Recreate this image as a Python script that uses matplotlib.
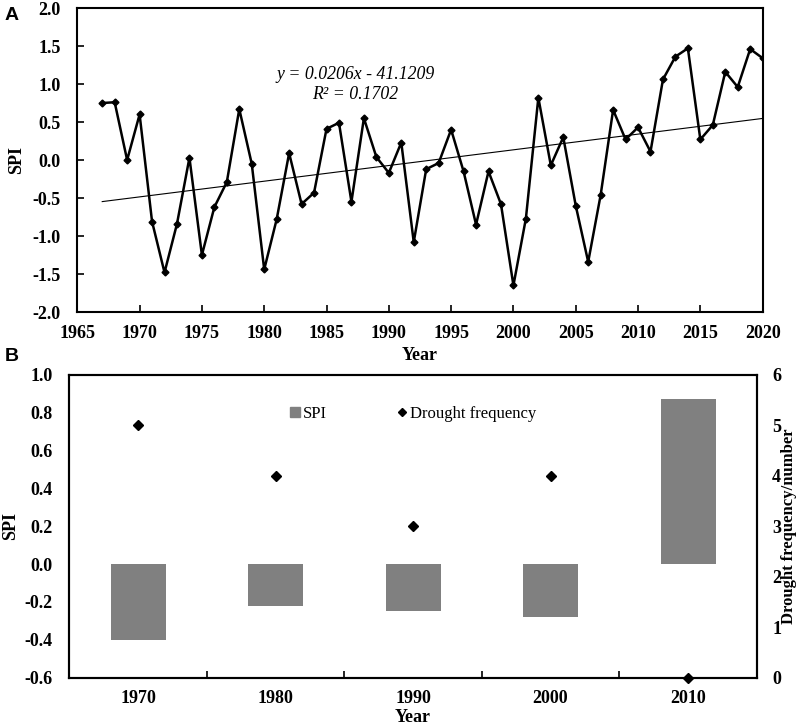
import numpy as np
import matplotlib
matplotlib.use("Agg")
import matplotlib.pyplot as plt
from matplotlib.lines import Line2D

plt.rcParams['font.family'] = ['Liberation Serif', 'DejaVu Serif']

# ---- Panel A data ----
years = list(range(1967, 2021))
spi = [0.75, 0.76, 0.00, 0.60, -0.81, -1.48, -0.84, 0.03, -1.25, -0.62,
       -0.29, 0.67, -0.05, -1.44, -0.78, 0.09, -0.58, -0.43, 0.41, 0.49,
       -0.55, 0.55, 0.04, -0.17, 0.23, -1.08, -0.12, -0.04, 0.40, -0.15,
       -0.85, -0.15, -0.58, -1.65, -0.77, 0.82, -0.07, 0.30, -0.60, -1.34,
       -0.46, 0.66, 0.27, 0.43, 0.11, 1.06, 1.36, 1.47, 0.27, 0.46,
       1.16, 0.96, 1.46, 1.34]
eq_text = "y = 0.0206x - 41.1209"
r2_text = "R² = 0.1702"

# ---- Panel B data ----
decades = ["1970", "1980", "1990", "2000", "2010"]
decade_spi = [-0.40, -0.22, -0.25, -0.28, 0.87]
drought_freq = [5, 4, 3, 4, 0]

FS = 13

fig = plt.figure(figsize=(7.96, 7.28), dpi=100)

# ---------------- Panel A ----------------
ax1 = fig.add_axes([0.0971, 0.5714, 0.861, 0.4176])
ax1.plot(years, spi, color='black', lw=1.8, marker='D', markersize=3.5, zorder=3)
coef = np.polyfit(years, spi, 1)
yrs = np.array([years[0], years[-1]])
ax1.plot(yrs, np.polyval(coef, yrs), color='black', lw=0.8, zorder=2)
ax1.set_xlim(1965, 2020)
ax1.set_ylim(-2.0, 2.0)
ax1.set_xticks(range(1965, 2021, 5))
ax1.set_yticks(np.arange(-2.0, 2.01, 0.5))
ax1.set_yticklabels([f"{v:.1f}" for v in np.arange(-2.0, 2.01, 0.5)])
ax1.tick_params(axis='both', direction='in', length=5, width=1.2, labelsize=FS)
ax1.tick_params(axis='y', pad=12)
ax1.tick_params(axis='x', pad=9)
for lab in ax1.get_xticklabels() + ax1.get_yticklabels():
    lab.set_fontweight('bold')
ax1.set_xlabel("Year", fontsize=FS, fontweight='bold', labelpad=4)
ax1.set_ylabel("SPI", fontsize=FS, fontweight='bold', labelpad=5)
for s in ax1.spines.values():
    s.set_linewidth(1.5)
ax1.text(1987.3, 1.12, eq_text, fontsize=12.8, style='italic', ha='center', va='center')
ax1.text(1987.3, 0.86, r2_text, fontsize=12.8, style='italic', ha='center', va='center')
fig.text(0.006, 0.991, "A", fontsize=14, fontweight='bold', family='Liberation Sans',
         ha='left', va='top')

# ---------------- Panel B ----------------
ax2 = fig.add_axes([0.0871, 0.0691, 0.8636, 0.4162])
xpos = np.arange(len(decades))
ax2.bar(xpos, decade_spi, width=0.40, color='#808080', zorder=2)
ax2.set_xlim(-0.5, len(decades) - 0.5)
ax2.set_ylim(-0.6, 1.0)
ax2.set_yticks(np.arange(-0.6, 1.01, 0.2))
ax2.set_yticklabels([f"{v:.1f}" for v in np.arange(-0.6, 1.01, 0.2)])
ax2.set_xticks(xpos)
ax2.set_xticklabels(decades)
ax2.set_xticks(xpos[:-1] + 0.5, minor=True)
ax2.tick_params(axis='x', which='major', length=0, pad=9, labelsize=FS)
ax2.tick_params(axis='x', which='minor', direction='in', length=5, width=1.2)
ax2.tick_params(axis='y', length=0, pad=12, labelsize=FS)
for lab in ax2.get_xticklabels() + ax2.get_yticklabels():
    lab.set_fontweight('bold')
ax2.set_xlabel("Year", fontsize=FS, fontweight='bold', labelpad=1)
ax2.set_ylabel("SPI", fontsize=FS, fontweight='bold', labelpad=4)
for s in ax2.spines.values():
    s.set_linewidth(1.5)

ax3 = ax2.twinx()
ax3.plot(xpos, drought_freq, linestyle='none', marker='D', markersize=5,
         color='black', clip_on=False, zorder=4)
ax3.set_ylim(0, 6)
ax3.set_yticks(range(0, 7))
ax3.tick_params(axis='y', length=0, pad=11, labelsize=FS)
for lab in ax3.get_yticklabels():
    lab.set_fontweight('bold')
ax3.set_ylabel("Drought frequency/number", fontsize=12, fontweight='bold', labelpad=0)
for s in ax3.spines.values():
    s.set_linewidth(1.5)

handles = [Line2D([], [], linestyle='none', marker='s', markersize=7, color='#808080'),
           Line2D([], [], linestyle='none', marker='D', markersize=4.5, color='black')]
ax2.legend(handles, ["SPI", "Drought frequency"], loc='center', bbox_to_anchor=(0.5, 0.87),
           ncol=2, frameon=False, fontsize=12, handlelength=0.6, handletextpad=0.2,
           columnspacing=4.2)
fig.text(0.006, 0.522, "B", fontsize=14, fontweight='bold', family='Liberation Sans',
         ha='left', va='top')

fig.savefig("out.png", dpi=100)
